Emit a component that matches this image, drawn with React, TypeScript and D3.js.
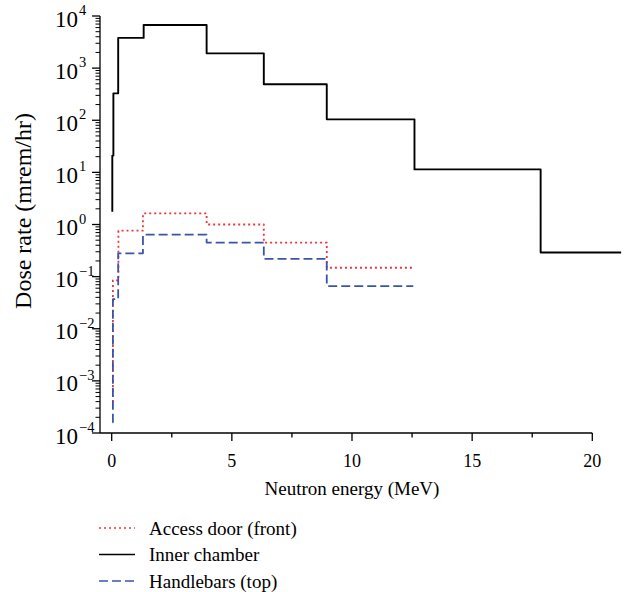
import React from "react";
import * as d3 from "d3";

// step edges (MeV) and dose rates (mrem/hr); each value holds until the next edge
const innerEnergy = [0.025, 0.025, 0.07, 0.27, 1.33, 3.95, 6.33, 8.95, 12.6, 17.85, 21.2];
const innerDose = [1.75, 21, 328, 3800, 6700, 1920, 490, 104, 11.4, 0.29, 0.29];

const doorEnergy = [0.03, 0.05, 0.28, 1.3, 3.95, 6.33, 8.95, 12.55];
const doorDose = [0.0004, 0.085, 0.76, 1.63, 1.0, 0.45, 0.148, 0.148];

const handleEnergy = [0.03, 0.05, 0.27, 1.3, 3.95, 6.33, 8.95, 12.55];
const handleDose = [0.00016, 0.037, 0.28, 0.64, 0.45, 0.22, 0.066, 0.066];

const xTicks = [0, 5, 10, 15, 20];
const xMinorTicks = [2.5, 7.5, 12.5, 17.5];
const yExponents = [4, 3, 2, 1, 0, -1, -2, -3, -4];

const legendItems = [
  { label: "Access door (front)", color: "#f0323c", dash: "2,3" },
  { label: "Inner chamber", color: "#000000", dash: "" },
  { label: "Handlebars (top)", color: "#3a55a8", dash: "9,4" },
];

const font = "'Liberation Serif', 'Times New Roman', serif";

const App = () => {
  const x = d3.scaleLinear().domain([0, 20]).range([111.7, 592.3]);
  const y = d3.scaleLog().domain([1e-4, 1e4]).range([433, 16]);

  const line = d3
    .line<[number, number]>()
    .x((d) => x(d[0]))
    .y((d) => y(d[1]))
    .curve(d3.curveStepAfter);

  const toPts = (e: number[], v: number[]) => e.map((d, i) => [d, v[i]] as [number, number]);

  // minor log ticks 2..9 in each decade
  const yMinor: number[] = [];
  for (let p = -4; p < 4; p++) {
    for (let m = 2; m <= 9; m++) yMinor.push(m * Math.pow(10, p));
  }

  const x0 = 100;
  const yAxisBottom = y(1e-4);

  return (
    <svg
      width={638}
      height={592}
      style={{ position: "absolute", left: 0, top: 0, background: "#fff" }}
      fontFamily={font}
    >
      {/* axes */}
      <g stroke="#000" strokeWidth={1.3}>
        <line x1={x0} x2={x0} y1={y(1e4)} y2={yAxisBottom} />
        <line x1={x0} x2={x(20)} y1={yAxisBottom} y2={yAxisBottom} />
        {yExponents.map((p) => (
          <line key={p} x1={x0 - 8} x2={x0} y1={y(Math.pow(10, p))} y2={y(Math.pow(10, p))} />
        ))}
        {yMinor.map((v, i) => (
          <line key={i} x1={x0 - 4.5} x2={x0} y1={y(v)} y2={y(v)} strokeWidth={1} />
        ))}
        {xTicks.map((t) => (
          <line key={t} x1={x(t)} x2={x(t)} y1={yAxisBottom} y2={yAxisBottom + 8} />
        ))}
        {xMinorTicks.map((t) => (
          <line key={t} x1={x(t)} x2={x(t)} y1={yAxisBottom} y2={yAxisBottom + 4.5} />
        ))}
      </g>

      {/* tick labels */}
      <g fill="#000">
        {yExponents.map((p) => (
          <g key={p}>
            <text x={78} y={y(Math.pow(10, p)) + 10.5} fontSize={23} textAnchor="end">
              10
            </text>
            <text x={79} y={y(Math.pow(10, p)) - 1} fontSize={14.5}>
              {p < 0 ? "\u2212" + Math.abs(p) : p}
            </text>
          </g>
        ))}
        {xTicks.map((t) => (
          <text key={t} x={x(t)} y={466.5} fontSize={18} textAnchor="middle">
            {t}
          </text>
        ))}
        <text x={352} y={495} fontSize={19} textAnchor="middle">
          Neutron energy (MeV)
        </text>
        <text transform="translate(31,211) rotate(-90)" fontSize={24} textAnchor="middle">
          Dose rate (mrem/hr)
        </text>
      </g>

      {/* series */}
      <g fill="none" strokeLinejoin="round">
        <path d={line(toPts(innerEnergy, innerDose)) || ""} stroke="#000" strokeWidth={1.9} />
        <path
          d={line(toPts(doorEnergy, doorDose)) || ""}
          stroke="#f0323c"
          strokeWidth={1.8}
          strokeDasharray="2,3"
        />
        <path
          d={line(toPts(handleEnergy, handleDose)) || ""}
          stroke="#3a55a8"
          strokeWidth={1.8}
          strokeDasharray="9,4"
        />
      </g>

      {/* legend */}
      {legendItems.map((d, i) => (
        <g key={d.label} transform={`translate(0,${528 + i * 26.5})`}>
          <line
            x1={99}
            x2={135}
            y1={0}
            y2={0}
            stroke={d.color}
            strokeWidth={1.6}
            strokeDasharray={d.dash || undefined}
          />
          <text x={149} y={6.5} fontSize={19}>
            {d.label}
          </text>
        </g>
      ))}
    </svg>
  );
};

export default App;
